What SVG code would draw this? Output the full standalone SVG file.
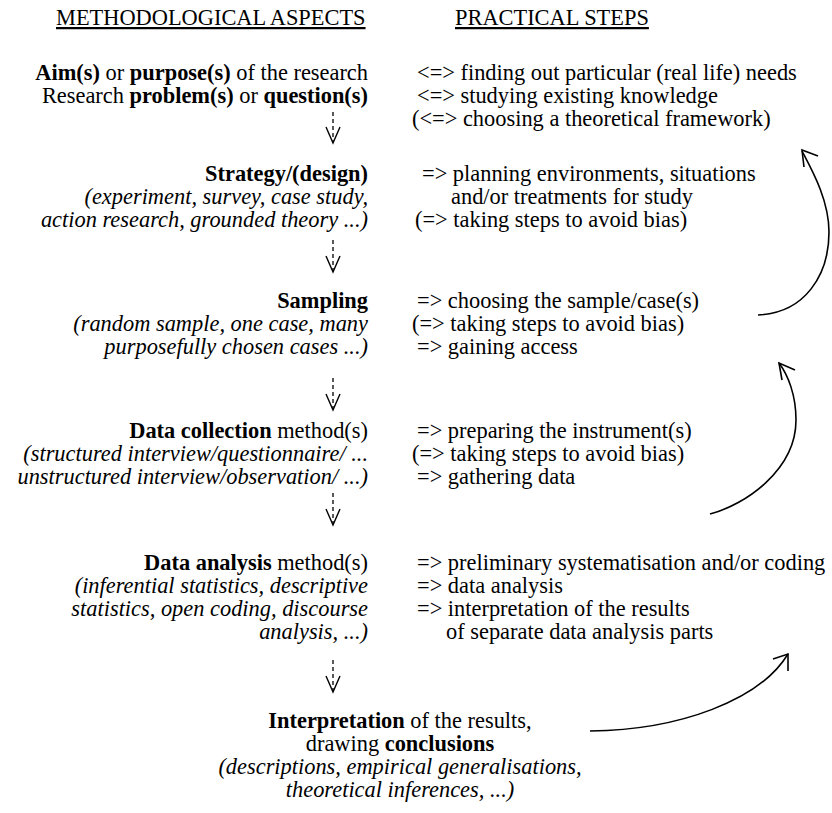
<svg xmlns="http://www.w3.org/2000/svg" width="832" height="813" viewBox="0 0 832 813">
<style>
text { font-family: "Liberation Serif", "Times New Roman", serif; font-size: 22.4px; fill: #000; }
.b { font-weight: bold; }
.i { font-style: italic; }
.r { text-anchor: end; }
.c { text-anchor: middle; }
.u { text-decoration: underline; }
.dash { stroke: #000; stroke-width: 1.3; stroke-dasharray: 4 3; fill: none; }
.head { stroke: #000; stroke-width: 1.4; fill: none; stroke-linejoin: miter; }
.curve { stroke: #000; stroke-width: 1.6; fill: none; }
</style>
<rect width="832" height="813" fill="#fff"/>
<g id="headers">
  <text x="56" y="25" class="u">METHODOLOGICAL ASPECTS</text>
  <text x="455" y="25" class="u">PRACTICAL STEPS</text>
</g>
<g id="node-aim">
  <text x="368" y="80" class="r"><tspan class="b">Aim(s)</tspan> or <tspan class="b">purpose(s)</tspan> of the research</text>
  <text x="368" y="103" class="r">Research <tspan class="b">problem(s)</tspan> or <tspan class="b">question(s)</tspan></text>
  <text x="417" y="80">&lt;=&gt; finding out particular (real life) needs</text>
  <text x="417" y="103">&lt;=&gt; studying existing knowledge</text>
  <text x="412" y="126">(&lt;=&gt; choosing a theoretical framework)</text>
</g>
<g id="node-strategy">
  <text x="368" y="181" class="r b">Strategy/(design)</text>
  <text x="368" y="204" class="r i">(experiment, survey, case study,</text>
  <text x="368" y="227" class="r i">action research, grounded theory ...)</text>
  <text x="422" y="181">=&gt; planning environments, situations</text>
  <text x="451" y="204">and/or treatments for study</text>
  <text x="415" y="227">(=&gt; taking steps to avoid bias)</text>
</g>
<g id="node-sampling">
  <text x="368" y="308" class="r b">Sampling</text>
  <text x="368" y="331" class="r i">(random sample, one case, many</text>
  <text x="368" y="354" class="r i">purposefully chosen cases ...)</text>
  <text x="417" y="308">=&gt; choosing the sample/case(s)</text>
  <text x="412" y="331">(=&gt; taking steps to avoid bias)</text>
  <text x="417" y="354">=&gt; gaining access</text>
</g>
<g id="node-collection">
  <text x="368" y="438" class="r"><tspan class="b">Data collection</tspan> method(s)</text>
  <text x="368" y="461" class="r i">(structured interview/questionnaire/ ...</text>
  <text x="368" y="484" class="r i">unstructured interview/observation/ ...)</text>
  <text x="417" y="438">=&gt; preparing the instrument(s)</text>
  <text x="412" y="461">(=&gt; taking steps to avoid bias)</text>
  <text x="417" y="484">=&gt; gathering data</text>
</g>
<g id="node-analysis">
  <text x="368" y="570" class="r"><tspan class="b">Data analysis</tspan> method(s)</text>
  <text x="368" y="593" class="r i">(inferential statistics, descriptive</text>
  <text x="368" y="616" class="r i">statistics, open coding, discourse</text>
  <text x="368" y="639" class="r i">analysis, ...)</text>
  <text x="417" y="570">=&gt; preliminary systematisation and/or coding</text>
  <text x="417" y="593">=&gt; data analysis</text>
  <text x="417" y="616">=&gt; interpretation of the results</text>
  <text x="446" y="639">of separate data analysis parts</text>
</g>
<g id="node-interpretation">
  <text x="400" y="728" class="c"><tspan class="b">Interpretation</tspan> of the results,</text>
  <text x="400" y="751" class="c">drawing <tspan class="b">conclusions</tspan></text>
  <text x="400" y="774" class="c i">(descriptions, empirical generalisations,</text>
  <text x="400" y="797" class="c i">theoretical inferences, ...)</text>
</g>
<g id="connectors">
  <line class="dash" x1="333" y1="112" x2="333" y2="142"/>
  <polyline class="head" points="326,127 333,143 340,127"/>
  <line class="dash" x1="333" y1="240" x2="333" y2="271"/>
  <polyline class="head" points="326,256 333,272 340,256"/>
  <line class="dash" x1="333" y1="378" x2="333" y2="409"/>
  <polyline class="head" points="326,394 333,410 340,394"/>
  <line class="dash" x1="333" y1="493" x2="333" y2="524"/>
  <polyline class="head" points="326,509 333,525 340,509"/>
  <line class="dash" x1="333" y1="660" x2="333" y2="691"/>
  <polyline class="head" points="326,676 333,692 340,676"/>
  <path class="curve" d="M758,315 C805,313 829,275 829,232 C829,200 812,170 802,151"/>
  <polyline class="curve" points="818,156 802,150 804,167"/>
  <path class="curve" d="M710,514 C745,505 796,470 796,420 C796,395 788,375 779,363"/>
  <polyline class="curve" points="795,370 779,363 782,380"/>
  <path class="curve" d="M590,731 C680,730 760,700 788,654"/>
  <polyline class="curve" points="773,659 788,654 788,671"/>
</g>
</svg>
